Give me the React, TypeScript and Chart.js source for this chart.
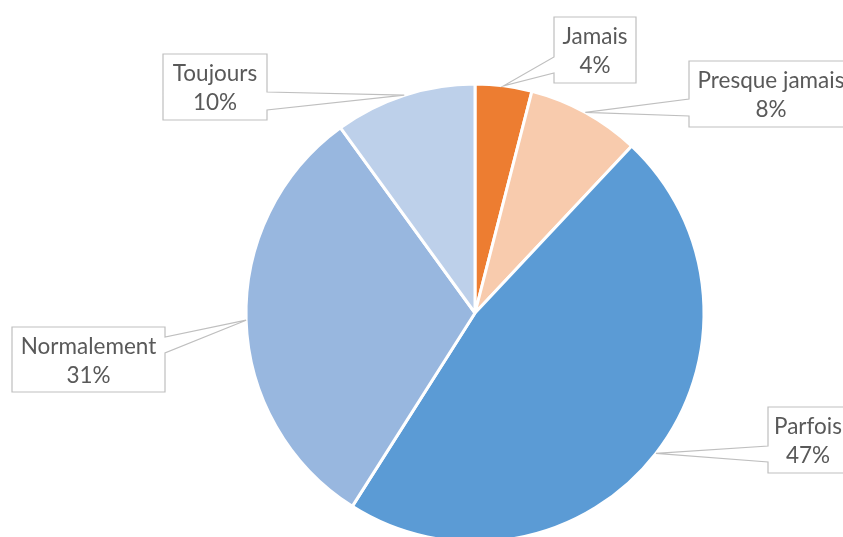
import React, { useEffect, useRef } from "react";
import { Chart, registerables } from "chart.js";

Chart.register(...registerables);

const categories = ["Jamais", "Presque jamais", "Parfois", "Normalement", "Toujours"];
const values = [4, 8, 47, 31, 10];
const percentLabels = ["4%", "8%", "47%", "31%", "10%"];
const colors = ["#ED7D31", "#F8CBAD", "#5B9BD5", "#98B7DF", "#BDD0EA"];

// callout box layout: x, y, w, h, side where wedge attaches, wedge base offsets from top
const calloutLayout = [
  { x: 554, y: 17, w: 82, h: 66, side: "left", b0: 40, b1: 56 },
  { x: 689, y: 61, w: 164, h: 66, side: "left", b0: 38, b1: 55 },
  { x: 768, y: 407, w: 80, h: 66, side: "left", b0: 39, b1: 55 },
  { x: 12, y: 327, w: 153, h: 65, side: "right", b0: 10, b1: 26 },
  { x: 163, y: 54, w: 104, h: 66, side: "right", b0: 38, b1: 56 },
];

const FONT = "22.5px Lato";

const calloutPlugin = {
  id: "callouts",
  afterDraw(chart: any) {
    const ctx = chart.ctx;
    const meta = chart.getDatasetMeta(0);
    meta.data.forEach((arc: any, i: number) => {
      const L = calloutLayout[i];
      if (!L) return;
      const { x: cx, y: cy, startAngle, endAngle, outerRadius } = arc.getProps(
        ["x", "y", "startAngle", "endAngle", "outerRadius"],
        true
      );
      const mid = (startAngle + endAngle) / 2;
      const ax = cx + Math.cos(mid) * outerRadius;
      const ay = cy + Math.sin(mid) * outerRadius;
      const { x, y, w, h } = L;
      ctx.save();
      ctx.beginPath();
      if (L.side === "left") {
        ctx.moveTo(x, y);
        ctx.lineTo(x + w, y);
        ctx.lineTo(x + w, y + h);
        ctx.lineTo(x, y + h);
        ctx.lineTo(x, y + L.b1);
        ctx.lineTo(ax, ay);
        ctx.lineTo(x, y + L.b0);
        ctx.closePath();
      } else {
        ctx.moveTo(x, y);
        ctx.lineTo(x + w, y);
        ctx.lineTo(x + w, y + L.b0);
        ctx.lineTo(ax, ay);
        ctx.lineTo(x + w, y + L.b1);
        ctx.lineTo(x + w, y + h);
        ctx.lineTo(x, y + h);
        ctx.closePath();
      }
      ctx.fillStyle = "#FFFFFF";
      ctx.fill();
      ctx.strokeStyle = "#BFBFBF";
      ctx.lineWidth = 1.2;
      ctx.stroke();
      ctx.fillStyle = "#595959";
      ctx.font = FONT;
      ctx.textAlign = "center";
      ctx.textBaseline = "alphabetic";
      ctx.fillText(categories[i], x + w / 2, y + 27);
      ctx.fillText(percentLabels[i], x + w / 2, y + 56);
      ctx.restore();
    });
  },
};

export default function App() {
  const ref = useRef<HTMLCanvasElement | null>(null);
  useEffect(() => {
    document.body.style.margin = "0";
    const chart = new Chart(ref.current as HTMLCanvasElement, {
      type: "pie",
      data: {
        labels: categories,
        datasets: [
          {
            data: values,
            backgroundColor: colors,
            borderColor: "#FFFFFF",
            borderWidth: 3,
          },
        ],
      },
      options: {
        animation: false,
        responsive: false,
        radius: 229,
        layout: { padding: { left: 246, right: 139, top: 84, bottom: 18 } },
        plugins: {
          legend: { display: false },
          tooltip: { enabled: false },
        },
      } as any,
      plugins: [calloutPlugin],
    });
    return () => chart.destroy();
  }, []);
  return (
    <div style={{ position: "fixed", left: 0, top: 0, width: 843, height: 537, overflow: "hidden", background: "#fff" }}>
      <canvas ref={ref} width={843} height={560} style={{ width: 843, height: 560, display: "block" }} />
    </div>
  );
}
